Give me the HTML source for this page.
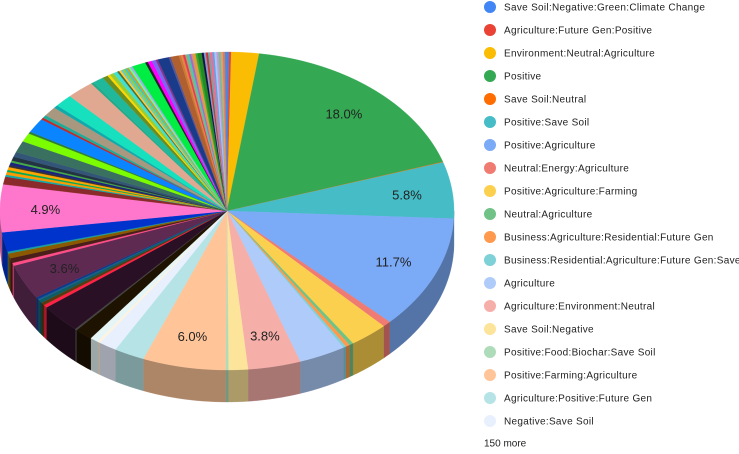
<!DOCTYPE html>
<html><head><meta charset="utf-8">
<style>
html,body{margin:0;padding:0;background:#fff;}
body{width:739px;height:454px;overflow:hidden;font-family:"Liberation Sans",Arial,sans-serif;}
svg{display:block;}
</style></head>
<body>
<svg id="chart" width="739" height="454" viewBox="0 0 739 454" xmlns="http://www.w3.org/2000/svg">
<g id="sides"></g>
<g id="tops"></g>
<g id="labels"></g>
<g id="legend"></g>
</svg>
<script>
// Legend categories (first 19 shown)
const legendNames = ["Save Soil:Negative:Green:Climate Change","Agriculture:Future Gen:Positive","Environment:Neutral:Agriculture","Positive","Save Soil:Neutral","Positive:Save Soil","Positive:Agriculture","Neutral:Energy:Agriculture","Positive:Agriculture:Farming","Neutral:Agriculture","Business:Agriculture:Residential:Future Gen","Business:Residential:Agriculture:Future Gen:Save","Agriculture","Agriculture:Environment:Neutral","Save Soil:Negative","Positive:Food:Biochar:Save Soil","Positive:Farming:Agriculture","Agriculture:Positive:Future Gen","Negative:Save Soil"];
const moreLabel = "150 more";
// slice values (percent), clockwise from 12 o'clock
const values = [0.15,0.15,2.0,18.0,0.05,5.8,11.7,0.6,2.8,0.3,0.3,0.2,3.4,3.8,1.4,0.2,6.0,2.2,1.3,
 0.2,0.6,1.3,0.15,3.0,0.3,0.3,0.3,0.15,0.2,3.6,0.3,0.5,0.5,0.2,2.0,4.9,0.8,
 0.2,0.3,0.2,0.3,0.2,0.3,0.2,0.4,0.5,1.2,0.9,0.2,1.5,0.2,0.3,1.0,0.3,1.3,2.0,0.2,0.8,0.4,0.2,0.3,0.3,
 0.15,0.15,0.15,0.15,0.15,0.15,0.15,0.15,1.0,0.2,0.3,0.3,0.15,0.8,0.15,0.6,0.15,0.15,0.15,0.15,0.15,0.15,0.15,0.15,0.15,0.3,0.15,0.15,0.15,0.15,0.15,0.15,0.15,0.15,0.15,0.15,0.15,0.15];
const colors = ["#4285f4","#ea4335","#fbbc04","#34a853","#ff6d01","#46bdc6","#7baaf7","#f07b72","#fcd04f","#71c287","#ff994d","#7ed1d7","#aecbfa","#f6aea9","#fde49b","#aedcba","#ffc599","#b5e3e6","#e8f0fe",
 "#fff3e0","#e6f6f7","#1e1200","#444444","#2a1025","#ff2244","#5a3a10","#0d5c63","#1a5e8a","#0b3a8c","#5e2a52","#ff4d88","#4a1f1a","#8b5a00","#1a9e9e","#0033cc","#ff77cc","#8b2a2a",
 "#11aaaa","#ff9900","#00aa55","#ffa500","#333333","#1a237e","#44aa44","#223344","#335577","#3a7060","#7cfc00","#2e7d32","#0a84ff","#c62828","#22aa99","#a89880","#11aaaa","#16e0bd","#e0a890","#22aa88","#20b89a","#6b8e23","#ffd700","#9acd32","#40e0d0",
 "#556b2f","#ffcc33","#66cccc","#99cc33","#33cccc","#cc9933","#66ff99","#aaaaee","#00ee44","#222222","#ff00ff","#7b68ee","#883388","#1a3a8a","#555599","#b06030","#cc7733","#dd8844","#ee3355","#99aa77","#44ccaa","#aa66cc","#cc9966","#ee9933","#33aa33","#228b22","#111144","#8899cc","#cc3333","#66aaaa","#ff6688","#7799dd","#99ccff","#cc99cc","#77bb99","#ccaa77","#ee7755","#5588cc","#dd66aa","#aabbcc"];
const labelTexts = {3:"18.0%",5:"5.8%",6:"11.7%",13:"3.8%",16:"6.0%",29:"3.6%",35:"4.9%"};

const cx=227, cy=211, rx=227, ry=159, depth=32;
const NS="http://www.w3.org/2000/svg";
const total = values.reduce((a,b)=>a+b,0);
function pt(a,dy){return [cx+rx*Math.sin(a), cy-ry*Math.cos(a)+(dy||0)];}
function shade(hex,f){const n=parseInt(hex.slice(1),16);const r=(n>>16)&255,g=(n>>8)&255,b=n&255;
 return "rgb("+Math.round(r*f)+","+Math.round(g*f)+","+Math.round(b*f)+")";}
function arcPts(a0,a1,dy){const pts=[];const n=Math.max(2,Math.ceil((a1-a0)/0.01));
 for(let i=0;i<=n;i++){pts.push(pt(a0+(a1-a0)*i/n,dy));}return pts;}
const sides=document.getElementById('sides'),tops=document.getElementById('tops'),labels=document.getElementById('labels');
let acc=0;
values.forEach((v,i)=>{
 const a0=acc/total*2*Math.PI; acc+=v; const a1=acc/total*2*Math.PI;
 const col=colors[i%colors.length];
 const s0=Math.max(a0,Math.PI/2), s1=Math.min(a1,3*Math.PI/2);
 if(s1>s0){
  const top=arcPts(s0,s1,0), bot=arcPts(s0,s1,depth).reverse();
  const p=document.createElementNS(NS,'path');
  p.setAttribute('d','M'+top.concat(bot).map(q=>q[0].toFixed(2)+','+q[1].toFixed(2)).join('L')+'Z');
  p.setAttribute('fill',shade(col,0.68));
  p.setAttribute('stroke',shade(col,0.68));p.setAttribute('stroke-width','0.3');
  
  
  sides.appendChild(p);
 }
 const pts=arcPts(a0,a1,0);
 const p=document.createElementNS(NS,'path');
 p.setAttribute('d','M'+cx+','+cy+'L'+pts.map(q=>q[0].toFixed(2)+','+q[1].toFixed(2)).join('L')+'Z');
 p.setAttribute('fill',col);p.setAttribute('stroke',col);p.setAttribute('stroke-width','0.3');
 
 
 tops.appendChild(p);
 if(labelTexts[i]){
  const m=(a0+a1)/2;
  const t=document.createElementNS(NS,'text');
  t.setAttribute('x',(cx+rx*0.8*Math.sin(m)).toFixed(1));
  t.setAttribute('y',(cy-ry*0.8*Math.cos(m)+5).toFixed(1));
  t.setAttribute('text-anchor','middle');t.setAttribute('font-size','13');t.setAttribute('fill','#222');
  t.textContent=labelTexts[i];
  
  
  labels.appendChild(t);
 }
});
const legend=document.getElementById('legend');
legendNames.forEach((n,i)=>{
 const y=7+i*23;
 const c=document.createElementNS(NS,'circle');
 c.setAttribute('cx','490');c.setAttribute('cy',y);c.setAttribute('r','6');c.setAttribute('fill',colors[i]);
 
 
 legend.appendChild(c);
 const t=document.createElementNS(NS,'text');
 t.setAttribute('x','504');t.setAttribute('y',y+3.5);t.setAttribute('font-size','10');t.setAttribute('fill','#222');
 t.setAttribute('letter-spacing','0.3');
 t.textContent=n;
 
 
 legend.appendChild(t);
});
const mt=document.createElementNS(NS,'text');
mt.setAttribute('x','484');mt.setAttribute('y','446.5');mt.setAttribute('font-size','10');mt.setAttribute('fill','#222');
mt.textContent=moreLabel;


legend.appendChild(mt);
</script>
</body></html>
